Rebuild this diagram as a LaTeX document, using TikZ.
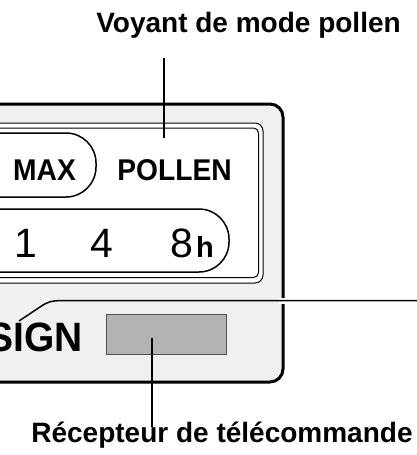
\documentclass[tikz,border=0pt]{standalone}
\usepackage{fontspec}
\setmainfont{Liberation Sans}
\definecolor{panelgray}{HTML}{F0F0F0}
\definecolor{recvgray}{HTML}{B3B3B3}
\definecolor{recvedge}{HTML}{505050}
\begin{document}
\begin{tikzpicture}[x=1pt,y=-1pt,
  lbl/.style={inner sep=0pt,anchor=base,font=\fontsize{28}{30}\selectfont\bfseries},
  keytxt/.style={inner sep=0pt,anchor=base,font=\fontsize{30}{32}\selectfont\bfseries,xscale=0.94},
  digit/.style={inner sep=0pt,anchor=base,font=\fontsize{41}{43}\selectfont},
  leader/.style={line width=1.5pt},
  box/.style={line width=1.5pt,rounded corners=30pt}]
\useasboundingbox (0,0) rectangle (417,455);
\clip (0,0) rectangle (417,455);
% outer housing
\draw[line width=3pt,fill=panelgray,rounded corners=13pt] (-30,104) -- (283,104) -- (283,382) -- (-30,382);
% inner display panel (double frame)
\draw[line width=1pt,fill=white,rounded corners=8pt] (-30,123) -- (263,123) -- (263,283) -- (-30,283);
\draw[line width=1pt,rounded corners=5pt] (-30,128) -- (258.5,128) -- (258.5,277.5) -- (-30,277.5);
% MAX box
\draw[box] (-30,133) -- (96,133) -- (96,197) -- (-30,197);
\node[keytxt] (max) at (44.5,180) {MAX};
\node[keytxt] (pollen) at (174.5,180) {POLLEN};
% timer box
\draw[box] (-30,209) -- (229,209) -- (229,272) -- (-30,272);
\node[digit] (d1) at (26,257) {1};
\node[digit] (d4) at (102,257) {4};
\node[digit] (d8) at (182,257) {8};
\node[inner sep=0pt,anchor=base,font=\fontsize{29}{31}\selectfont\bfseries] (hh) at (205,257) {h};
% SIGN text
\node[inner sep=0pt,anchor=base east,font=\fontsize{41}{43}\selectfont\bfseries,xscale=0.95] (sign) at (83,351) {SIGN};
% receiver window
\node[draw=recvedge,line width=1pt,fill=recvgray,minimum width=120pt,minimum height=40pt,inner sep=0pt] (recv) at (166,334) {};
% labels
\node[lbl] (lblPollen) at (248.5,32) {Voyant de mode pollen};
\node[lbl] (lblRecv) at (222,442) {Récepteur de télécommande};
% leaders
\coordinate (pTop) at (164,58);
\coordinate (pEnd) at (164,138);
\draw[leader] (pTop) -- (pEnd);
\coordinate (rTop) at (152,338);
\coordinate (rEnd) at (152,427);
\draw[leader] (rTop) -- (rEnd);
% line toward SIGN
\coordinate (sA) at (19,321);
\coordinate (sB) at (417,300.7);
\draw[white,line width=6pt] (279,300.7) -- (287,300.7);
\draw[leader] (sA) -- (40,307) .. controls (48,301.5) and (52,300.7) .. (60,300.7) -- (sB);
\end{tikzpicture}
\end{document}
